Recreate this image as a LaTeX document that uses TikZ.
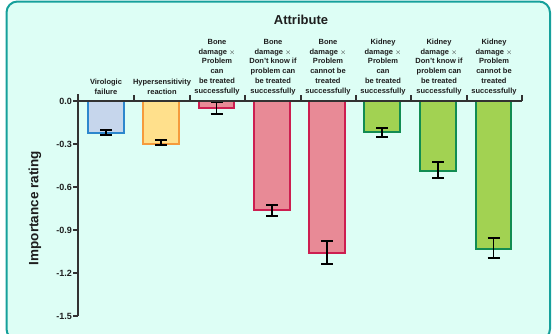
\documentclass[tikz,border=0pt]{standalone}
\usepackage{fontspec}
\setmainfont{Liberation Sans}
\definecolor{bgmint}{RGB}{221,254,245}
\definecolor{frameteal}{RGB}{22,160,155}
\definecolor{axisgrey}{RGB}{50,50,50}
\definecolor{txtdark}{RGB}{30,30,30}
\definecolor{blueF}{RGB}{198,214,236}
\definecolor{blueB}{RGB}{45,135,205}
\definecolor{yelF}{RGB}{255,224,140}
\definecolor{yelB}{RGB}{245,155,60}
\definecolor{pinkF}{RGB}{232,138,150}
\definecolor{pinkB}{RGB}{205,30,80}
\definecolor{grnF}{RGB}{162,210,82}
\definecolor{grnB}{RGB}{18,140,82}
\begin{document}
\begin{tikzpicture}[x=1pt,y=-1pt,
  axisline/.style={draw=axisgrey,line width=1.5pt},
  catlabel/.style={font=\bfseries\fontsize{7.5}{9.8}\selectfont,align=center,anchor=south,inner sep=0pt,text=txtdark},
  ticklabel/.style={font=\bfseries\fontsize{9}{10}\selectfont,anchor=east,inner sep=0pt,text=txtdark},
  errbar/.style={draw=black,line width=1.1pt},
  barbox/.style={line width=1.8pt}]
\useasboundingbox (0,0) rectangle (552,333);
\begin{scope}
\clip (0,0) rectangle (552,333);
\draw[frameteal,fill=bgmint,line width=2pt,rounded corners=11pt] (6.5,1.5) rectangle (550,340);
\end{scope}
% bars
\draw[barbox,draw=blueB,fill=blueF] (88,101) rectangle (124,133);
\draw[barbox,draw=yelB,fill=yelF] (143,101) rectangle (179,144);
\draw[barbox,draw=pinkB,fill=pinkF] (199,101) rectangle (234,108);
\draw[barbox,draw=pinkB,fill=pinkF] (254,101) rectangle (290,210);
\draw[barbox,draw=pinkB,fill=pinkF] (309,101) rectangle (345,253);
\draw[barbox,draw=grnB,fill=grnF] (364,101) rectangle (400,132);
\draw[barbox,draw=grnB,fill=grnF] (420,101) rectangle (456,171);
\draw[barbox,draw=grnB,fill=grnF] (476,101) rectangle (511,249);
% error bars
\foreach \cx/\ya/\yb in {106/130/135,161/140/145,216.5/102/114,272/205/216,327/241/264,382/128/137,438/162/178,493.5/238/258}{
  \draw[errbar] (\cx,\ya) -- (\cx,\yb);
  \draw[errbar] (\cx-6,\ya) -- (\cx+6,\ya);
  \draw[errbar] (\cx-6,\yb) -- (\cx+6,\yb);
}
% axes
\coordinate (ytop) at (78,94);
\coordinate (ybot) at (78,316);
\coordinate (xend) at (522,101);
\draw[axisline] (ytop) -- (ybot);
\draw[axisline] (78,101) -- (xend);
\foreach \tx in {134,190,245,301,356,411,467,522}{
  \draw[axisline] (\tx,101) -- (\tx,95);
}
\foreach \v/\lab [count=\i] in {0/0.0,1/-0.3,2/-0.6,3/-0.9,4/-1.2,5/-1.5}{
  \draw[axisline] (73,101+43*\v) -- (78,101+43*\v);
  \node[ticklabel] (t\i) at (72,101+43*\v) {\lab};
}
\node[font=\bfseries\fontsize{13.5}{14}\selectfont,rotate=90,inner sep=0pt,text=txtdark] (ylab) at (35,208) {Importance rating};
\node[font=\bfseries\fontsize{13}{14}\selectfont,inner sep=0pt,text=txtdark] (title) at (301,20) {Attribute};
% category labels
\node[catlabel] (c1) at (106,95) {Virologic\\failure};
\node[catlabel] (c2) at (162,95) {Hypersensitivity\\reaction};
\node[catlabel] (c3) at (217,95) {Bone\\damage $\times$\\Problem\\can\\be treated\\successfully};
\node[catlabel] (c4) at (273,95) {Bone\\damage $\times$\\Don't know if\\problem can\\be treated\\successfully};
\node[catlabel] (c5) at (328,95) {Bone\\damage $\times$\\Problem\\cannot be\\treated\\successfully};
\node[catlabel] (c6) at (383,95) {Kidney\\damage $\times$\\Problem\\can\\be treated\\successfully};
\node[catlabel] (c7) at (439,95) {Kidney\\damage $\times$\\Don't know if\\problem can\\be treated\\successfully};
\node[catlabel] (c8) at (494,95) {Kidney\\damage $\times$\\Problem\\cannot be\\treated\\successfully};
\end{tikzpicture}
\end{document}
